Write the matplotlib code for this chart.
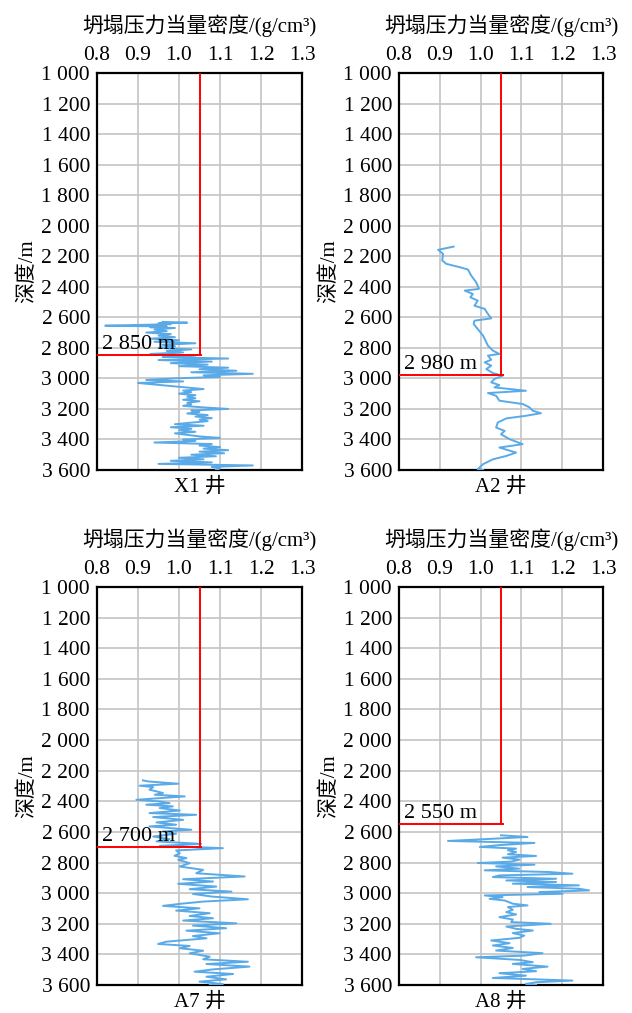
import matplotlib
matplotlib.use("Agg")
import matplotlib.pyplot as plt

plt.rcParams['font.family'] = ['Liberation Serif', 'Noto Sans CJK SC']
plt.rcParams['font.size'] = 15.5

XLABEL = "坍塌压力当量密度/(g/cm³)"
YLABEL = "深度/m"
X_TICKS = [0.8, 0.9, 1.0, 1.1, 1.2, 1.3]
Y_TICKS = list(range(1000, 3601, 200))
LIMIT_DENSITY = 1.05

# well X1
x1_depth = [2630, 2635, 2640, 2645, 2650, 2655, 2660, 2665, 2670, 2680, 2690, 2700,
            2710, 2720, 2730, 2740, 2750, 2760, 2770, 2780, 2790, 2800, 2810, 2820,
            2830, 2840, 2850, 2860, 2870, 2880, 2890, 2900, 2910, 2920, 2930, 2940,
            2950, 2960, 2970, 2980, 2990, 3000, 3010, 3020, 3030, 3040, 3050, 3060,
            3070, 3080, 3090, 3100, 3110, 3120, 3130, 3140, 3150, 3160, 3170, 3180,
            3190, 3200, 3210, 3220, 3230, 3240, 3250, 3260, 3270, 3280, 3290, 3300,
            3310, 3320, 3330, 3340, 3350, 3360, 3370, 3380, 3390, 3400, 3410, 3420,
            3430, 3440, 3450, 3460, 3470, 3480, 3490, 3500, 3510, 3520, 3530, 3540,
            3550, 3560, 3570, 3580, 3590, 3600]
x1_value = [0.96, 1.02, 0.95, 0.98, 0.90, 0.82, 0.97, 0.93, 0.99, 0.94, 0.97, 0.92,
            0.98, 0.95, 0.99, 0.93, 1.00, 0.94, 1.04, 0.96, 0.99, 0.95, 1.03, 0.97,
            1.01, 0.93, 1.04, 0.96, 1.12, 0.95, 1.08, 0.98, 1.07, 1.00, 1.12, 1.05,
            1.14, 1.03, 1.18, 1.06, 1.10, 0.99, 0.92, 1.01, 0.90, 0.94, 0.98, 1.02,
            1.06, 1.01, 1.03, 1.00, 1.04, 1.02, 1.04, 1.01, 1.05, 1.02, 1.03, 1.01,
            1.06, 1.12, 1.03, 1.05, 1.02, 1.07, 1.04, 1.08, 1.05, 1.07, 1.03, 0.99,
            1.06, 0.98, 1.03, 1.00, 1.04, 0.99, 1.02, 1.05, 1.10, 1.01, 1.04, 0.94,
            1.08, 1.05, 1.10, 1.06, 1.12, 1.05, 1.11, 1.03, 1.09, 1.00, 1.06, 0.98,
            1.08, 0.95, 1.18, 1.08, 1.10, 1.09]

# well A2
a2_depth = [2137, 2158, 2185, 2228, 2250, 2272, 2287, 2327, 2370, 2414, 2425, 2447,
            2469, 2491, 2524, 2545, 2578, 2607, 2622, 2644, 2677, 2720, 2753, 2786,
            2818, 2840, 2851, 2878, 2895, 2917, 2939, 2965, 2983, 3004, 3026, 3044,
            3059, 3081, 3096, 3114, 3146, 3168, 3190, 3212, 3228, 3245, 3262, 3289,
            3322, 3344, 3366, 3398, 3431, 3453, 3486, 3508, 3530, 3562, 3595, 3600]
a2_value = [0.934, 0.896, 0.908, 0.906, 0.916, 0.949, 0.969, 0.977, 0.989, 0.996,
            0.961, 0.981, 0.975, 0.993, 0.985, 1.010, 1.018, 1.026, 0.985, 0.983,
            0.993, 1.006, 1.012, 1.018, 1.030, 1.046, 1.018, 1.026, 1.010, 1.026,
            1.014, 1.030, 1.054, 1.034, 1.026, 1.046, 1.034, 1.111, 1.018, 1.038,
            1.046, 1.103, 1.120, 1.128, 1.148, 1.111, 1.063, 1.042, 1.038, 1.059,
            1.050, 1.071, 1.103, 1.046, 1.087, 1.063, 1.030, 1.006, 0.993, 1.006]

# well A7
a7_depth = [2263, 2270, 2285, 2298, 2307, 2324, 2335, 2346, 2357, 2368, 2390, 2401,
            2412, 2422, 2433, 2444, 2460, 2477, 2488, 2503, 2521, 2538, 2553, 2564,
            2586, 2597, 2612, 2630, 2647, 2662, 2678, 2691, 2706, 2721, 2739, 2756,
            2771, 2782, 2804, 2826, 2848, 2870, 2891, 2909, 2924, 2939, 2957, 2974,
            2990, 3005, 3022, 3040, 3055, 3070, 3083, 3099, 3114, 3131, 3149, 3164,
            3179, 3197, 3212, 3229, 3245, 3262, 3280, 3295, 3317, 3332, 3345, 3360,
            3376, 3393, 3415, 3432, 3448, 3463, 3480, 3498, 3513, 3528, 3546, 3563,
            3578, 3594, 3600]
a7_value = [0.912, 0.924, 0.998, 0.904, 0.937, 0.928, 0.945, 0.961, 0.941, 1.014,
            0.896, 0.953, 0.977, 0.920, 0.985, 0.953, 1.002, 0.928, 1.042, 0.937,
            1.010, 0.945, 0.993, 0.928, 1.030, 0.961, 0.993, 0.937, 0.977, 0.945,
            1.054, 0.953, 1.107, 0.993, 1.002, 0.989, 1.018, 0.998, 1.026, 1.002,
            1.059, 1.042, 1.160, 1.010, 1.083, 0.998, 1.091, 1.026, 1.128, 1.034,
            1.079, 1.168, 1.059, 1.002, 0.961, 1.050, 0.993, 1.075, 1.026, 1.083,
            1.010, 1.140, 1.034, 1.115, 1.018, 1.099, 1.034, 1.067, 0.969, 0.949,
            1.026, 1.002, 1.059, 1.026, 1.075, 1.059, 1.168, 1.067, 1.172, 1.083,
            1.038, 1.132, 1.067, 1.115, 1.050, 1.107, 1.075]

# well A8
a8_depth = [2622, 2633, 2644, 2659, 2672, 2687, 2698, 2709, 2720, 2731, 2746, 2757,
            2768, 2781, 2794, 2803, 2814, 2825, 2840, 2851, 2862, 2873, 2884, 2895,
            2906, 2917, 2927, 2938, 2949, 2960, 2971, 2982, 2993, 3004, 3015, 3026,
            3037, 3048, 3069, 3080, 3091, 3109, 3124, 3139, 3157, 3172, 3189, 3200,
            3218, 3233, 3244, 3261, 3277, 3292, 3309, 3327, 3342, 3358, 3375, 3392,
            3408, 3419, 3436, 3451, 3462, 3480, 3495, 3510, 3523, 3539, 3554, 3571,
            3582, 3593, 3600]
a8_value = [1.050, 1.115, 1.034, 0.920, 1.132, 1.042, 0.998, 1.087, 1.067, 1.087,
            1.067, 1.136, 1.054, 1.095, 1.075, 0.993, 1.132, 1.038, 1.095, 1.010,
            1.168, 1.225, 1.046, 1.030, 1.185, 1.063, 1.185, 1.079, 1.241, 1.115,
            1.241, 1.266, 1.144, 1.201, 1.010, 1.054, 1.022, 1.059, 1.079, 1.115,
            1.067, 1.079, 1.063, 1.087, 1.046, 1.079, 1.075, 1.172, 1.063, 1.087,
            1.128, 1.079, 1.107, 1.095, 1.026, 1.071, 1.030, 1.079, 1.038, 1.152,
            1.107, 0.989, 1.095, 1.128, 1.079, 1.164, 1.103, 1.136, 1.046, 1.111,
            1.030, 1.225, 1.136, 1.111, 1.136]

wells = [
    ("X1 井", x1_depth, x1_value, 2850),
    ("A2 井", a2_depth, a2_value, 2980),
    ("A7 井", a7_depth, a7_value, 2700),
    ("A8 井", a8_depth, a8_value, 2550),
]

W, H = 632, 1013
fig = plt.figure(figsize=(W / 100, H / 100), dpi=100)

# axes boxes in pixels: left, top, right, bottom
boxes = [(97, 73, 302, 470), (399, 73, 603, 470),
         (97, 587, 302, 985), (399, 587, 603, 985)]

for (name, depth, value, mark), (l, t, r, b) in zip(wells, boxes):
    ax = fig.add_axes([l / W, (H - b) / H, (r - l) / W, (b - t) / H])
    ax.set_xlim(0.8, 1.3)
    ax.set_ylim(3600, 1000)
    ax.set_xticks(X_TICKS)
    ax.set_xticklabels([f"{v:.1f}" for v in X_TICKS])
    ax.set_yticks(Y_TICKS)
    ax.set_yticklabels([f"{v:,}".replace(",", " ") for v in Y_TICKS])
    ax.xaxis.tick_top()
    ax.xaxis.set_label_position("top")
    ax.tick_params(axis='x', length=0, pad=6)
    ax.tick_params(axis='y', length=0, pad=5)
    ax.grid(True, color='#c4c4c4', linewidth=1.2)
    ax.set_axisbelow(True)
    for sp in ax.spines.values():
        sp.set_color('black')
        sp.set_linewidth(1.6)

    ax.plot(value, depth, color='#5aaae8', linewidth=1.4, zorder=3)
    ax.plot([LIMIT_DENSITY, LIMIT_DENSITY], [1000, mark], color='red', linewidth=1.4, zorder=4)
    ax.plot([0.8, LIMIT_DENSITY + 0.004], [mark, mark], color='red', linewidth=1.4, zorder=4)
    ax.text(0.812, mark - 8, f"{mark:,}".replace(",", " ") + " m", ha='left', va='bottom',
            fontsize=16, zorder=5)

    ax.set_xlabel(XLABEL, labelpad=10, fontsize=15)
    ax.set_ylabel(YLABEL, labelpad=3, fontsize=15)
    ax.text(0.5, -0.02, name, transform=ax.transAxes, ha='center', va='top', fontsize=15)

fig.savefig("out.png", dpi=100)
